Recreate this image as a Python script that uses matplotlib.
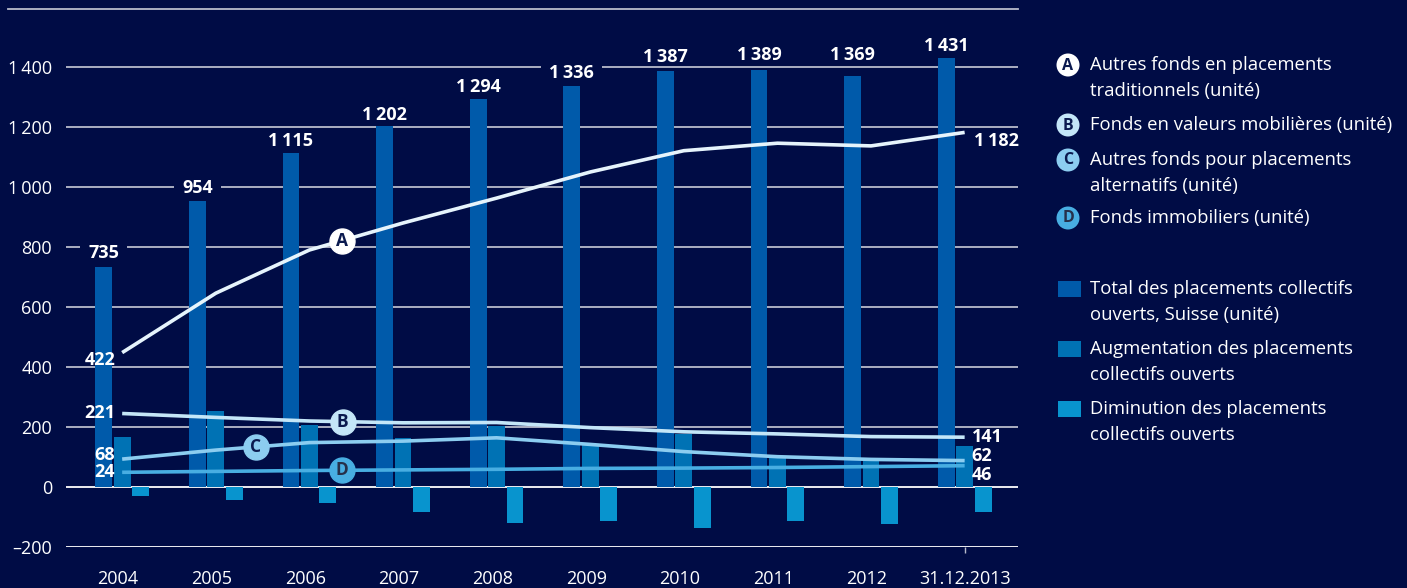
import numpy as np
import matplotlib
matplotlib.use("Agg")
import matplotlib.pyplot as plt
from matplotlib.patches import Circle, Rectangle
from matplotlib.transforms import IdentityTransform, ScaledTranslation

plt.rcParams['font.family'] = ['Open Sans', 'DejaVu Sans']

# data
years = ["2004", "2005", "2006", "2007", "2008", "2009", "2010", "2011", "2012", "31.12.2013"]
total = [735, 954, 1115, 1202, 1294, 1336, 1387, 1389, 1369, 1431]
total_labels = ["735", "954", "1\u2009115", "1\u2009202", "1\u2009294", "1\u2009336",
                "1\u2009387", "1\u2009389", "1\u2009369", "1\u2009431"]
augmentation = [167, 253, 207, 163, 203, 145, 177, 96, 88, 137]
diminution = [-30, -43, -52, -83, -119, -112, -137, -112, -123, -83]

fonds_a = [448, 646, 790, 880, 963, 1050, 1121, 1146, 1137, 1182]
fonds_b = [245, 232, 220, 214, 215, 198, 184, 177, 168, 166]
fonds_c = [93, 123, 148, 153, 164, 142, 118, 101, 92, 88]
fonds_d = [49, 52, 55, 57, 59, 62, 63, 65, 68, 71]
start_labels = ["422", "221", "68", "24"]
end_labels = ["1\u2009182", "141", "62", "46"]

yticks = [-200, 0, 200, 400, 600, 800, 1000, 1200, 1400]
ytick_labels = ["\u2013200", "0", "200", "400", "600", "800", "1\u2009000", "1\u2009200", "1\u2009400"]

BG = '#000c45'
C_TOTAL = '#005aaa'
C_AUG = '#0072b4'
C_DIM = '#0894ce'
LINE_COLS = ['#e6f4fc', '#c4e6f8', '#8ccdf0', '#48aee2']
LETTER = '#0b1a4f'
GRID = '#b8bccc'

fig = plt.figure(figsize=(14.07, 5.88), dpi=100, facecolor=BG)
ax = fig.add_axes([66/1407, 41/588, 952/1407, 540/588])
ax.set_facecolor(BG)

x = np.arange(len(years))
ax.set_xlim(-0.6, 9.57)
ax.set_ylim(-200, 1600)

for v in yticks:
    col = 'white' if v in (0, -200) else GRID
    ax.axhline(v, color=col, lw=1.3, zorder=1)

ax.bar(x - 0.197, total, width=0.18, color=C_TOTAL, zorder=3)
ax.bar(x, augmentation, width=0.18, color=C_AUG, zorder=3)
ax.bar(x + 0.197, diminution, width=0.18, color=C_DIM, zorder=3)

# gap (px) between bar top and label baseline, as placed in the original
label_gap = [9, 8, 6, 6, 7, 8, 9, 10, 16, 7]
bar_texts = []
for xi, v, lab, g in zip(x, total, total_labels, label_gap):
    t = ax.annotate(lab, (xi - 0.197, v), xytext=(0, g * 0.72), textcoords='offset points',
                    ha='center', va='baseline', color='white', fontsize=13, fontweight='bold',
                    zorder=2.5)
    bar_texts.append((t, xi - 0.197, v, g))

series = [fonds_a, fonds_b, fonds_c, fonds_d]
for s, col in zip(series, LINE_COLS):
    ax.plot(x, s, color=col, lw=2.6, zorder=4, solid_capstyle='butt')

# letter markers on lines
marker_x = [2.345, 2.356, 1.426, 2.345]
for letter, s, col, mx in zip("ABCD", series, LINE_COLS, marker_x):
    my = np.interp(mx, x, s)
    ax.plot(mx, my, 'o', ms=18, color='white' if letter == 'A' else col, zorder=5)
    ax.text(mx, my, letter, ha='center', va='center', color=LETTER if letter != 'D' else '#26304a',
            fontsize=12.5, fontweight='bold', zorder=6)

# start and end labels
start_off = [-5, 0, 3, 0]
end_off = [-6, 0, 3.5, -6.5]
for s, lab, dy in zip(series, start_labels, start_off):
    ax.annotate(lab, (x[0], s[0]), xytext=(-5, dy), textcoords='offset points',
                ha='right', va='center', color='white', fontsize=13, fontweight='bold', zorder=6)
for s, lab, dy, dx in zip(series, end_labels, end_off, [7, 5, 5, 5]):
    ax.annotate(lab, (x[-1], s[-1]), xytext=(dx, dy), textcoords='offset points',
                ha='left', va='center', color='white', fontsize=13, fontweight='bold', zorder=6)

for sp in ax.spines.values():
    sp.set_visible(False)
ax.set_yticks(yticks)
ax.set_yticklabels(ytick_labels)
ax.tick_params(axis='y', length=0, pad=10, labelsize=13, labelcolor='white')
ax.set_xticks(x)
ax.set_xticklabels(years)
ax.tick_params(axis='x', length=4.5, width=1, color=GRID, pad=12, labelsize=13, labelcolor='white')
for t in ax.xaxis.get_major_ticks()[:-1]:
    t.tick1line.set_visible(False)
for lbl in ax.get_xticklabels()[:-1]:
    lbl.set_transform(lbl.get_transform() + ScaledTranslation(-4/100, 0, fig.dpi_scale_trans))

# masks behind bar value labels so the grid is interrupted around them
fig.canvas.draw()
rend = fig.canvas.get_renderer()
for t, bx, bv, g in bar_texts:
    bb = t.get_window_extent(rend)
    base = ax.transData.transform((bx, bv))[1] + g
    ax.add_patch(Rectangle((bb.x0 - 8, base + 1), bb.width + 16, bb.y1 - base,
                           transform=IdentityTransform(), fc=BG, ec='none', zorder=2))

# overlay in pixel coordinates for legend and top rule
ov = fig.add_axes([0, 0, 1, 1], facecolor='none')
ov.set_xlim(0, 1407)
ov.set_ylim(588, 0)
ov.axis('off')
ov.plot([8, 1018], [9, 9], color=GRID, lw=1.3)

legend_lines = [
    ("A", ["Autres fonds en placements", "traditionnels (unité)"], 65),
    ("B", ["Fonds en valeurs mobilières (unité)"], 125),
    ("C", ["Autres fonds pour placements", "alternatifs (unité)"], 160),
    ("D", ["Fonds immobiliers (unité)"], 218),
]
for (letter, lines, yy), col in zip(legend_lines, LINE_COLS):
    fc = 'white' if letter == 'A' else col
    ov.add_patch(Circle((1068, yy), 11.5, fc=fc, ec='none'))
    ov.text(1068, yy + 0.5, letter, ha='center', va='center', fontsize=11.5, fontweight='bold',
            color=LETTER if letter != 'D' else '#26304a')
    for i, ln in enumerate(lines):
        ov.text(1090, yy + i * 26, ln, ha='left', va='center', fontsize=13.3, color='white')

bar_legend = [
    (C_TOTAL, ["Total des placements collectifs", "ouverts, Suisse (unité)"], 289),
    (C_AUG, ["Augmentation des placements", "collectifs ouverts"], 349),
    (C_DIM, ["Diminution des placements", "collectifs ouverts"], 409),
]
for col, lines, yy in bar_legend:
    ov.add_patch(Rectangle((1058, yy - 8), 23, 16, fc=col, ec='none'))
    for i, ln in enumerate(lines):
        ov.text(1090, yy + i * 26, ln, ha='left', va='center', fontsize=13.3, color='white')

fig.savefig("out.png", dpi=100, facecolor=BG)
